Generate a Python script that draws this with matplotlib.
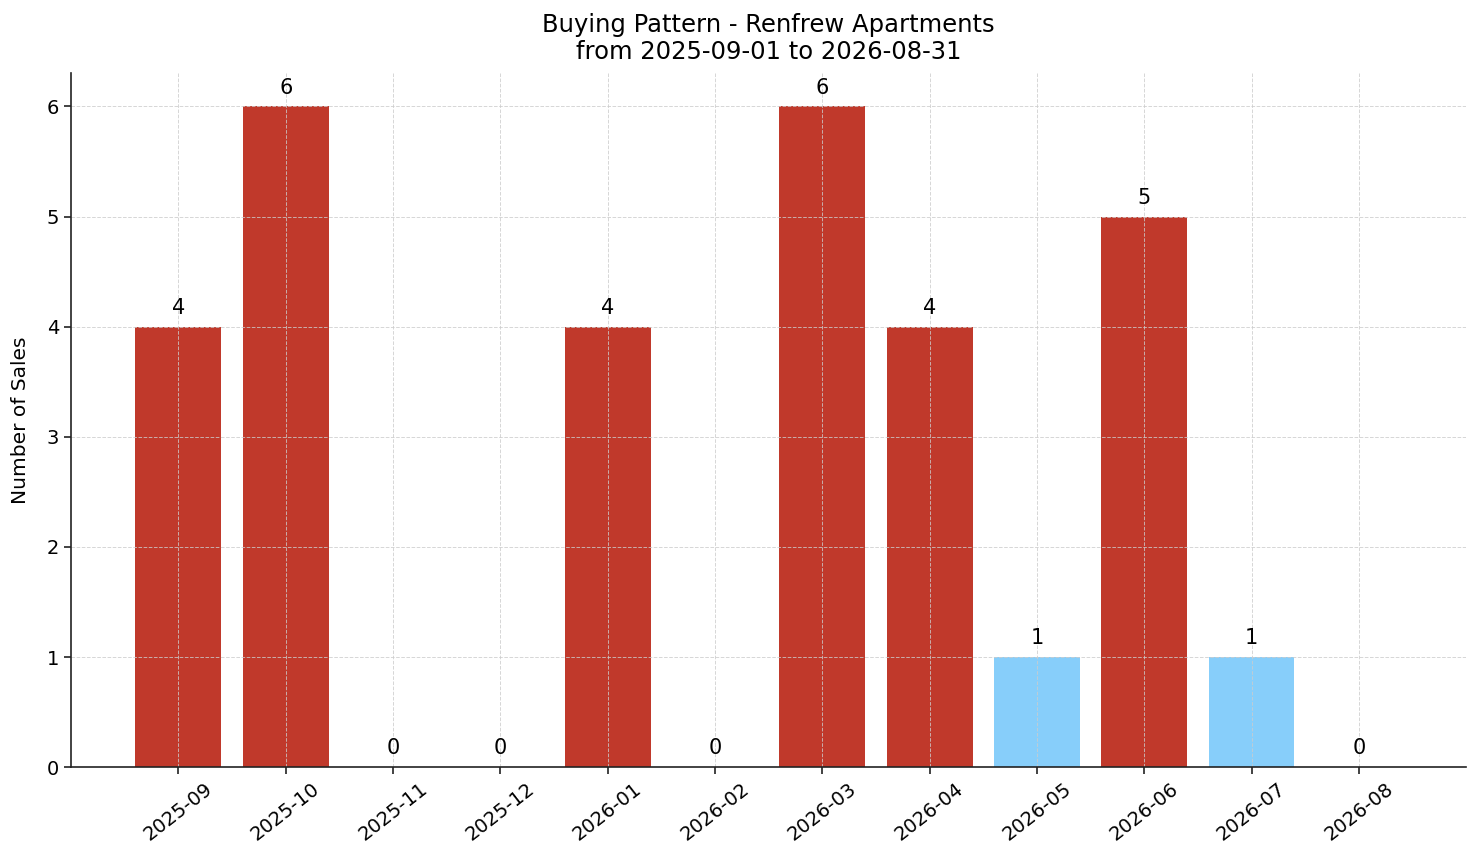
import matplotlib
matplotlib.use("Agg")
import matplotlib.pyplot as plt

months = ["2025-09", "2025-10", "2025-11", "2025-12", "2026-01", "2026-02",
          "2026-03", "2026-04", "2026-05", "2026-06", "2026-07", "2026-08"]
sales = [4, 6, 0, 0, 4, 0, 6, 4, 1, 5, 1, 0]
highlight = [False, False, False, False, False, False,
             False, False, True, False, True, False]

red = "#c0392b"
blue = "#87cefa"
colors = [blue if h else red for h in highlight]

fig, ax = plt.subplots(figsize=(14.81, 8.63), dpi=100)
x = range(len(months))
bars = ax.bar(x, sales, color=colors, width=0.8)

# value labels above each bar
for b, v in zip(bars, sales):
    ax.text(b.get_x() + b.get_width() / 2, v + 0.08, str(v),
            ha="center", va="bottom", fontsize=15)

ax.set_xticks(list(x))
ax.set_xticklabels(months, rotation=38, fontsize=14)
ax.tick_params(axis="both", labelsize=14, width=1.2, length=5, color="#222222")
ax.set_ylabel("Number of Sales", fontsize=14.5, labelpad=12)
ax.set_title("Buying Pattern - Renfrew Apartments\nfrom 2025-09-01 to 2026-08-31",
             fontsize=17.5, pad=10)
ax.set_ylim(0, 6.3)
ax.set_xlim(-1, 12)
ax.grid(True, linestyle="--", color="#cccccc", alpha=0.8, linewidth=0.7)
ax.spines["top"].set_visible(False)
ax.spines["right"].set_visible(False)
for s in ["left", "bottom"]:
    ax.spines[s].set_linewidth(1.2)
    ax.spines[s].set_color("#222222")

fig.subplots_adjust(left=0.048, right=0.99, top=0.915, bottom=0.111)
fig.savefig("out.png", dpi=100)
